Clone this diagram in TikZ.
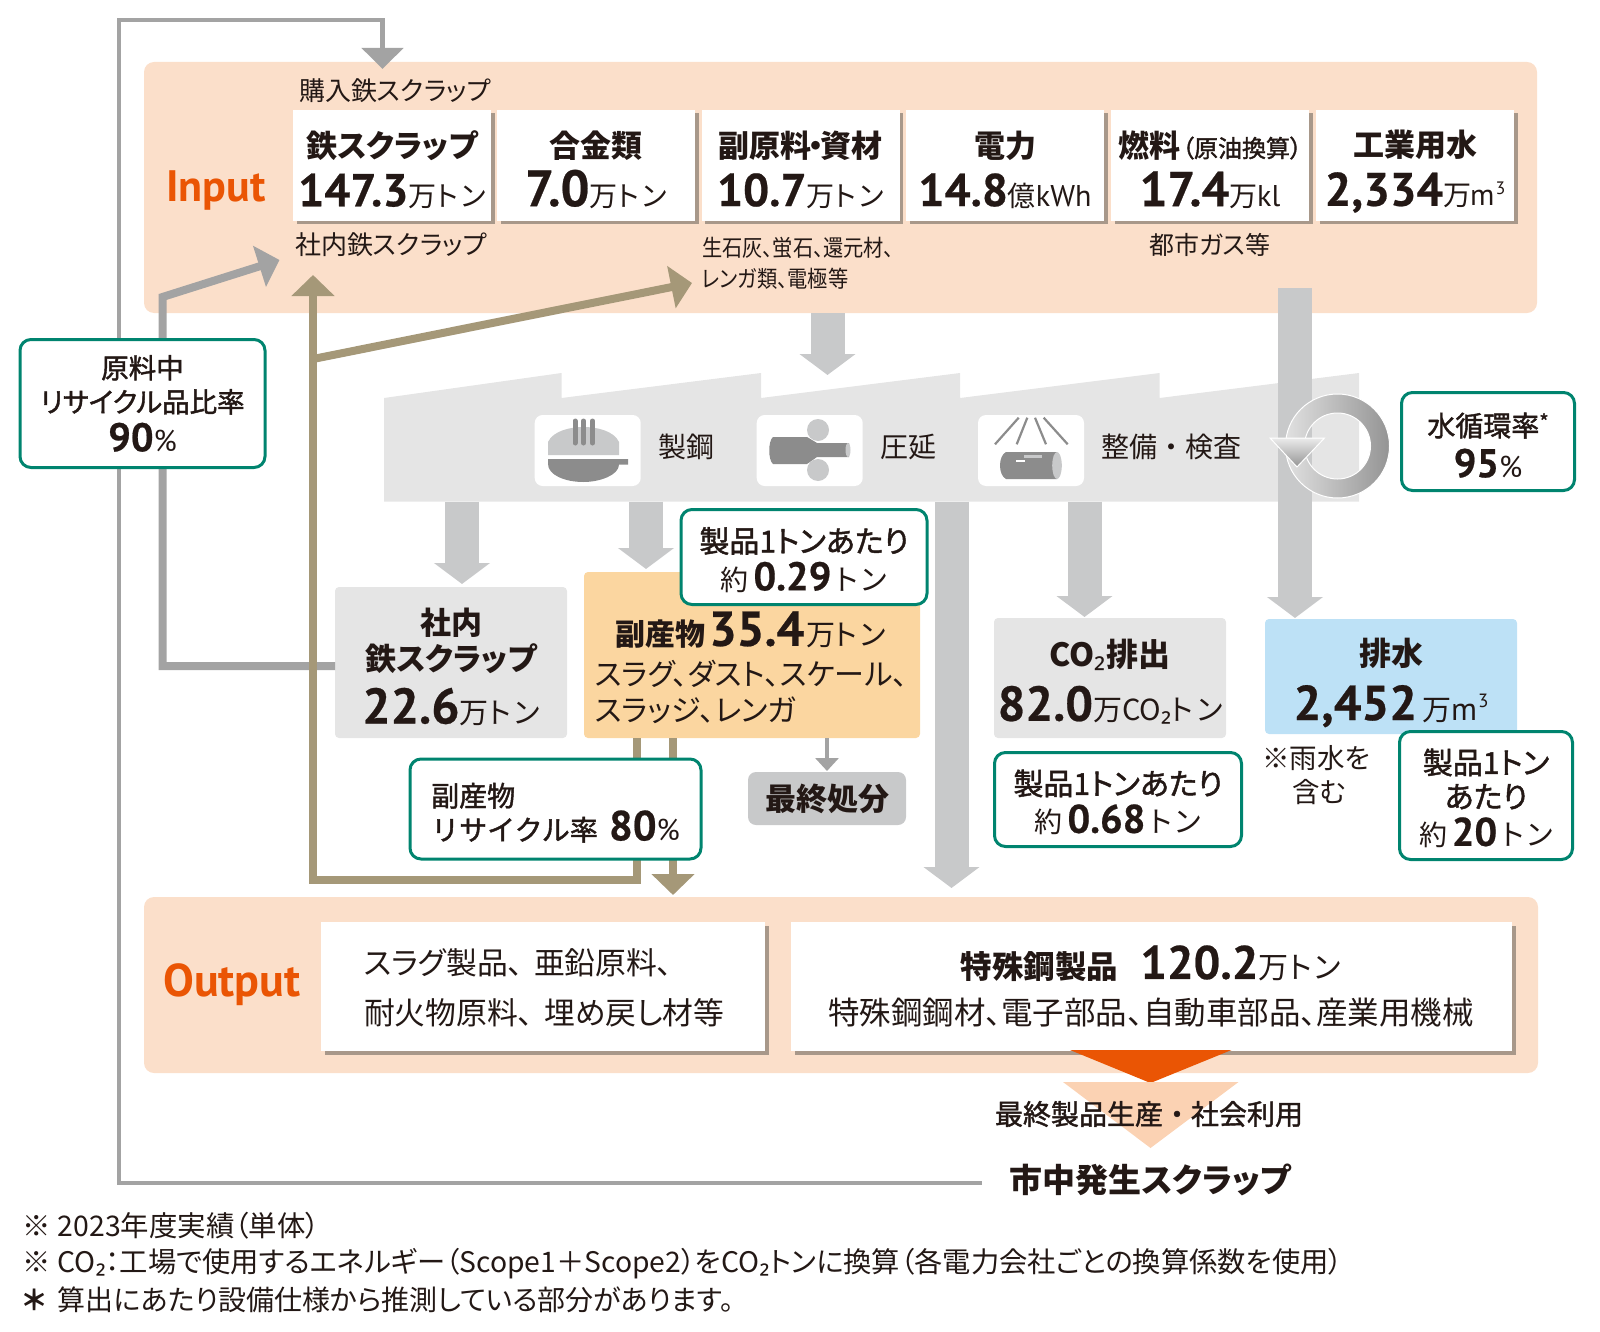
\documentclass[tikz,border=0pt]{standalone}
\usepackage{fontspec}
\setmainfont{Noto Sans CJK JP}[RawFeature={+palt}]
\newfontfamily\nump{PT Sans}
\newfontfamily\numf[BoldFeatures={FakeBold=0.5}]{PT Sans}
\newfontfamily\jpm[RawFeature={+palt},FakeBold=1.5]{Noto Sans CJK JP}
\newfontfamily\jpmw[FakeBold=1.5]{Noto Sans CJK JP}
\newfontfamily\jpw{Noto Sans CJK JP}
\newfontfamily\subf{Noto Sans}
\usetikzlibrary{arrows.meta,shadows}
\definecolor{ink}{HTML}{231815}
\definecolor{panelc}{HTML}{FBDFCA}
\definecolor{orangec}{HTML}{EA5504}
\definecolor{peachc}{HTML}{FBD2B3}
\definecolor{shadowc}{HTML}{A8988A}
\definecolor{factoryc}{HTML}{E5E5E5}
\definecolor{arrowc}{HTML}{C8C9CA}
\definecolor{greenc}{HTML}{00846F}
\definecolor{brownc}{HTML}{A59878}
\definecolor{linec}{HTML}{A3A3A3}
\definecolor{darkc}{HTML}{8C8C8C}
\definecolor{bpc}{HTML}{FBD6A0}
\definecolor{bluec}{HTML}{BDE1F6}
\newcommand\ttl[2][31]{{\bfseries\fontsize{#1}{36}\selectfont #2}}
\newcommand\nmb[2][46]{{\numf\bfseries\fontsize{#1}{36}\selectfont #2}}
\newcommand\unt[2][28]{{\fontsize{#1}{36}\selectfont #2}}
\newcommand\lat[2][30]{{\nump\fontsize{#1}{36}\selectfont #2}}
\newcommand\med[2][30]{{\jpm\fontsize{#1}{36}\selectfont #2}}
\newcommand\medw[2][28]{{\jpmw\fontsize{#1}{36}\selectfont #2}}
\newcommand\ton{ト\kern3pt ン}
\newcommand\subtwo{{\subf ₂}}
\newcommand\hightwo[1]{\kern1pt\raisebox{.38em}{\scalebox{.6}{#1}}}
\newcommand\dn{\rule{0pt}{31pt}}
\tikzset{
  every node/.style={text=ink,inner sep=0pt,outer sep=0pt},
  panel/.style={fill=panelc,rounded corners=10pt},
  whitebox/.style={rectangle,fill=white,minimum width=198pt,minimum height=111pt,
    general shadow={shadow xshift=3.5pt,shadow yshift=-3.5pt,fill=shadowc}},
  boxtext/.style={align=center,font=\fontsize{30}{49}\selectfont},
  graybox/.style={rectangle,fill=factoryc,rounded corners=4pt},
  callout/.style={rectangle,draw=greenc,line width=3pt,fill=white,rounded corners=11pt,align=center,font=\fontsize{28}{38}\selectfont},
  tile/.style={rectangle,fill=white,rounded corners=8pt,minimum width=106pt,minimum height=71pt},
  lbl/.style={align=center,font=\fontsize{28}{36}\selectfont},
  subl/.style={align=center,font=\fontsize{26}{28}\selectfont},
  note/.style={align=left,anchor=west,font=\fontsize{28}{30}\selectfont},
  blockarrow/.style={draw=arrowc,line width=34pt,-{Triangle[length=21pt,width=55pt]}},
  brownarrow/.style={draw=brownc,line width=8pt,miter limit=10,-{Triangle[length=21pt,width=42pt]}},
  grayarrow/.style={draw=linec,line width=8pt,miter limit=10,-{Triangle[length=21pt,width=42pt]}},
  thinarrow/.style={draw=linec,line width=4.5pt,-{Triangle[length=21pt,width=41pt]}},
}
\begin{document}
\begin{tikzpicture}[x=1pt,y=-1pt]
\useasboundingbox (0,0) rectangle (1600,1332);
% panels
\fill[panel] (144,62) rectangle (1537,313);
\fill[panel] (144,897) rectangle (1538,1073);
\node[font=\nump\bfseries\fontsize{44}{48}\selectfont,text=orangec] (inlab) at (216,191) {Input};
\node[font=\nump\bfseries\fontsize{46}{48}\selectfont,text=orangec] (outlab) at (232,985) {Output};
% factory
\fill[factoryc] (384,501.5) -- (384,398) -- (561.5,373) -- (561.5,398) -- (761,373) -- (761,398)
  -- (960,373) -- (960,398) -- (1159.5,373) -- (1159.5,398) -- (1359,373) -- (1359,501.5) -- cycle;
\node[tile] (t1) at (587.7,450.5) {};
\node[tile] (t2) at (809.7,450.5) {};
\node[tile] (t3) at (1031,450.5) {};
% ladle
\fill[arrowc] (548,455) -- (548,442) .. controls (553,431) and (570,427) .. (583.5,427)
  .. controls (597,427) and (614,431) .. (619,442) -- (619,455) -- cycle;
\fill[darkc] (548,459) -- (628,459) -- (628,464.5) -- (619,464.5) .. controls (619,475) and (600,482) .. (583.5,482)
  .. controls (565,482) and (548,475) .. (548,464) -- cycle;
\draw[darkc,line width=5pt,line cap=round] (575,421) -- (575,443) (583.5,421) -- (583.5,443) (592.5,421) -- (592.5,443);
% rolling
\fill[arrowc] (818,430) circle (11) (818,470) circle (11);
\fill[darkc] (773,437) -- (807,437) -- (817,443) -- (849,443) -- (849,457) -- (817,457) -- (807,464) -- (773,464)
  .. controls (768,460) and (768,441) .. (773,437) -- cycle;
\fill[arrowc] (848,450) ellipse (2.5 and 7);
% inspection
\draw[darkc,line width=2.2pt] (1018.7,417.7) -- (995,444.3) (1027.3,417.7) -- (1016.7,444.3)
  (1035,417.7) -- (1046,444.3) (1043.7,417.7) -- (1067.7,444.3);
\fill[darkc] (1006,452) -- (1057,452) -- (1057,479) -- (1006,479) .. controls (998,475) and (998,456) .. (1006,452) -- cycle;
\fill[arrowc] (1057,465.5) ellipse (4.8 and 13.5);
\fill[white] (1016,460) rectangle (1025,462.2);
\fill[arrowc] (1024,455.2) rectangle (1041.7,457.6);
\node[lbl] (seiko) at (686,447) {製鋼};
\node[lbl] (atsuen) at (908,447) {圧延};
\node[lbl,font=\jpw\fontsize{28}{36}\selectfont] (seibi) at (1171,447) {整備・検査};
% connector end points
\coordinate (a1s) at (827.5,313); \coordinate (a1e) at (827.5,375);
\coordinate (a2s) at (1295,288); \coordinate (a2e) at (1295,618);
\coordinate (a3s) at (462,501.5); \coordinate (a3e) at (462,584);
\coordinate (a4s) at (646,501.5); \coordinate (a4e) at (646,569);
\coordinate (a5s) at (951.5,501.5); \coordinate (a5e) at (951.5,888);
\coordinate (a6s) at (1084.5,501.5); \coordinate (a6e) at (1084.5,617);
\draw[blockarrow] (a1s) -- (a1e);
\draw[blockarrow] (a2s) -- (a2e);
\draw[blockarrow] (a3s) -- (a3e);
\draw[blockarrow] (a4s) -- (a4e);
\draw[blockarrow] (a5s) -- (a5e);
\draw[blockarrow] (a6s) -- (a6e);
% water ring
\shade[even odd rule,left color=black!12,right color=black!42] (1337.5,446) circle (52) (1337.5,446) circle (33);
\draw[white,line width=1pt] (1337.5,446) circle (52) (1337.5,446) circle (33);
\shade[top color=black!8,bottom color=black!42,draw=white,line width=1pt] (1270,438) -- (1324.5,438) -- (1297,467) -- cycle;
% white input boxes
\node[whitebox] (b1) at (392,165.5) {};
\node[whitebox] (b2) at (596,165.5) {};
\node[whitebox] (b3) at (800.5,165.5) {};
\node[whitebox] (b4) at (1005,165.5) {};
\node[whitebox] (b5) at (1210,165.5) {};
\node[whitebox] (b6) at (1415,165.5) {};
\node[boxtext] (b1t) at ([yshift=-4pt]b1) {\ttl{鉄スクラップ}\\\nmb{147.3}\unt{万\ton}};
\node[boxtext] (b2t) at ([yshift=-4pt]b2) {\ttl{合金類}\\\nmb[51]{7.0}\unt{万\ton}};
\node[boxtext] (b3t) at ([yshift=-4pt]b3) {\ttl{副原料\kern-3.5pt・\kern-3.5pt資材}\\\nmb{10.7}\unt{万\ton}};
\node[boxtext] (b4t) at ([yshift=-4pt]b4) {\ttl{電力}\\\nmb{14.8}\unt{億}\lat{kWh}};
\node[boxtext] (b5t) at ([yshift=-4pt]b5) {\ttl{燃料}\kern2pt\med[24]{（原油換算）}\\\nmb[49]{17.4}\unt{万}\lat{kl}};
\node[boxtext] (b6t) at ([yshift=-6pt]b6) {\ttl{工業用水}\\\nmb[47]{2,334}\unt{万}\kern-1pt\lat{m\hightwo{3}}};
\node[subl] (lb1) at (395,91) {購入鉄スクラップ};
\node[subl] (lb2) at (391,245) {社内鉄スクラップ};
\node[lbl,font=\fontsize{23}{31}\selectfont,align=left,anchor=west] (lb3) at (702,263) {\scalebox{.88}[1]{生石灰、蛍石、還元材、}\\\scalebox{.88}[1]{レンガ類、電極等}};
\node[subl,font=\fontsize{25}{28}\selectfont] (lb4) at (1210,245) {都市ガス等};
% by-product etc boxes
\node[graybox,minimum width=232pt,minimum height=151pt] (shanai) at (451,662.5) {};
\node[align=center,font=\fontsize{30}{36}\selectfont] (shanait) at (451,667) {\ttl{社内}\\\ttl{鉄スクラップ}\\[13pt]\nmb[50]{22.6}\unt[29]{万\ton}};
\node[rectangle,fill=bpc,rounded corners=4pt,minimum width=336pt,minimum height=166pt] (bp) at (752,655) {};
\node (bpt) at (751,630) {\ttl[30]{副産物}\hspace{.3em}\nmb[49]{35.4}\,\unt[29]{万\ton}};
\node[align=left,anchor=west,font=\fontsize{30}{36}\selectfont] (bpl) at (595,692) {スラグ、ダスト、スケール、\\スラッジ、レンガ};
\node[graybox,minimum width=232pt,minimum height=120pt] (co2) at (1110,678) {};
\node[align=center,font=\fontsize{30}{54}\selectfont] (co2t) at (1110,682) {\ttl[32]{CO\subtwo 排出}\\\nmb[49]{82.0}\unt[29]{万CO\subtwo\ton}};
\node[rectangle,fill=bluec,rounded corners=4pt,minimum width=252pt,minimum height=115pt] (drain) at (1391,676.5) {};
\node[align=center,font=\fontsize{30}{55}\selectfont] (draint) at (1391,682.5) {\ttl[32]{排水}\\\nmb[49]{2,452}\,\unt[29]{万}\lat[32]{m\hightwo{3}}};
\node[rectangle,fill=arrowc,rounded corners=8pt,minimum width=158pt,minimum height=53pt,font=\bfseries\fontsize{31}{36}\selectfont] (final) at (827,798.5) {最終処分};
\node[note,font=\fontsize{27.5}{34}\selectfont] (rain) at (1262,775) {※雨水を\\\hspace{1.1em}含む};
% connectors
\coordinate (g0) at (335,666); \coordinate (g1) at (162.5,297); \coordinate (g2) at (279.5,260);
\draw[grayarrow] (g0) -| (g1) -- (g2);
\coordinate (br0) at (637,738); \coordinate (br1) at (313,880); \coordinate (br2) at (313,275);
\draw[brownarrow] (br0) |- (br1) -- (br2);
\coordinate (br3) at (313,359); \coordinate (br4) at (692,283);
\draw[brownarrow] (br3) -- (br4);
\coordinate (br5) at (673,738); \coordinate (br6) at (673,895);
\draw[brownarrow] (br5) -- (br6);
\coordinate (s0) at (827,738); \coordinate (s1) at (827,771);
\draw[draw=linec,line width=4pt,-{Triangle[length=13pt,width=23pt]}] (s0) -- (s1);
% loop line
\coordinate (l0) at (982,1183); \coordinate (l1) at (119,1183); \coordinate (l2) at (119,20); \coordinate (l3) at (382.5,20); \coordinate (l4) at (382.5,69);
\draw[thinarrow] (l0) -- (l1) -- (l2) -- (l3) -- (l4);
% callouts
\node[callout,minimum width=245pt,minimum height=128pt,font=\fontsize{28}{34}\selectfont] (c90) at (142.5,403.5)
 {\med[27.5]{原料中}\\\med[27.5]{リサイクル品比率}\\[5pt]\nmb[40]{90}\lat{\%}};
\node[callout,minimum width=173pt,minimum height=98pt,font=\fontsize{28}{41}\selectfont] (c95) at (1488,441.5)
 {\dn\med[28]{水循環率}\raisebox{.25em}{\med[20]{*}}\\\nmb[40]{95}\lat{\%}};
\node[callout,minimum width=246pt,minimum height=95pt] (c029) at (804,557)
 {\dn\med{製品1トンあたり}\\\unt[28]{約}\,\nmb[40]{0.29}\,\unt[29]{\ton}};
\node[callout,minimum width=291pt,minimum height=100pt,align=left,font=\fontsize{28}{34}\selectfont] (c80) at (555.5,809)
 {\dn\medw{副産物}\\\medw{リサイクル率}\hspace{.4em}\nmb[42]{80}\lat{\%}};
\node[callout,minimum width=247pt,minimum height=94pt] (c068) at (1118,799.5)
 {\dn\med{製品1トンあたり}\\\unt[28]{約}\,\nmb[40]{0.68}\,\unt[29]{\ton}};
\node[callout,minimum width=173pt,minimum height=128pt,font=\fontsize{28}{34}\selectfont] (c20) at (1486,795.5)
 {\dn\med{製品1トン}\\\med{あたり}\\[4pt]\unt[28]{約}\,\nmb[40]{20}\,\unt[29]{\ton}};
% output
\node[whitebox,minimum width=444pt,minimum height=129pt] (o1) at (543,986.5) {};
\node[whitebox,minimum width=721pt,minimum height=129pt] (o2) at (1151.5,986.5) {};
\node[align=left,anchor=west,font=\fontsize{30.8}{50}\selectfont] (o1t) at (364,988) {スラグ製品、\hspace{.35em}亜鉛原料、\\耐火物原料、\hspace{.35em}埋め戻し材等};
\node[align=center,font=\fontsize{31.5}{46}\selectfont] (o2t) at (1151,986.5) {\ttl[31.5]{特殊鋼製品}\hspace{.7em}\nmb[47]{120.2}\unt[30]{万\ton}\\特殊鋼鋼材、電子部品、自動車部品、産業用機械};
\fill[orangec] (1070,1050) -- (1231.5,1050) -- (1150.5,1083) -- cycle;
\fill[peachc] (1063,1082) -- (1238.5,1082) -- (1150.5,1148) -- cycle;
\node[font=\jpmw\fontsize{28}{32}\selectfont] (life) at (1149,1114) {最終製品生産・社会利用};
\node[font=\bfseries\fontsize{33}{36}\selectfont] (ichi) at (1150,1180) {市中発生スクラップ};
% footers
\node[note,font=\fontsize{28.4}{30}\selectfont] (f1) at (23,1226) {※ 2023年度実績（単体）};
\node[note,font=\fontsize{28.3}{30}\selectfont] (f2) at (23,1264) {※ CO\subtwo：工場で使用するエネルギー（Scope1＋Scope2）をCO\subtwo トンに換算（各電力会社ごとの換算係数を使用）};
\node[note] (f3) at (23,1300) {\makebox[35pt][l]{\bfseries＊}算出にあたり設備仕様から推測している部分があります。};
\end{tikzpicture}
\end{document}
